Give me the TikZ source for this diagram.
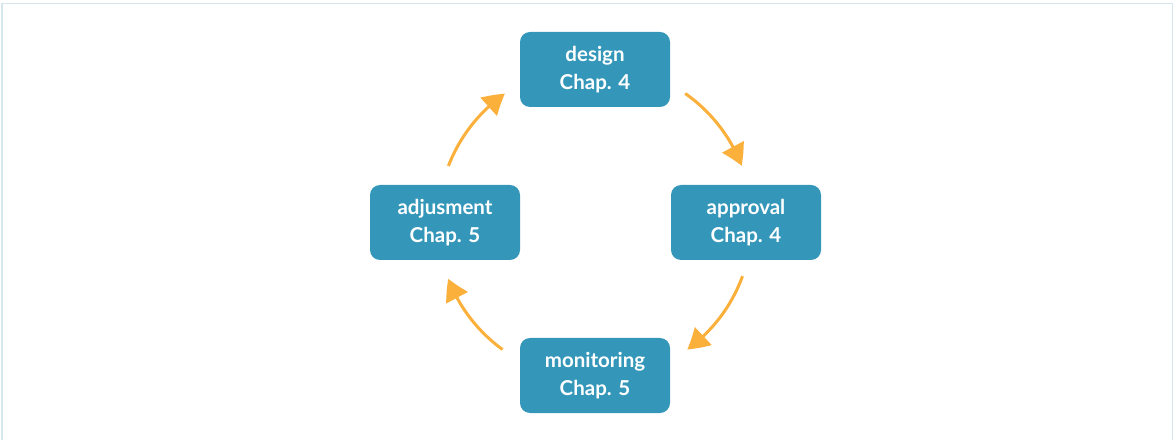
\documentclass[tikz,border=0pt]{standalone}
\usepackage{fontspec}
\setmainfont{Lato}
\definecolor{StageColor}{RGB}{52,151,186}
\definecolor{FlowColor}{RGB}{251,176,59}
\definecolor{FrameColor}{RGB}{214,230,238}
\usetikzlibrary{positioning, arrows.meta, bending, calc}
\tikzstyle{stage} = [rounded corners=10pt, fill=StageColor, text=white, font=\fontsize{20.5}{27.5}\selectfont\bfseries, align=center, minimum width=150pt, minimum height=75pt, inner sep=0pt]
\tikzstyle{flow} = [line width=3pt, FlowColor, -{Triangle[length=21pt, width=24pt, bend]}]

\begin{document}
\begin{tikzpicture}[x=1pt, y=1pt]
                \useasboundingbox (0,0) rectangle (1174,439);
                % Frame
                \draw[FrameColor, line width=1.5pt] (2,-2) -- (2,435.5) -- (1172.3,435.5) -- (1172.3,-2);
                
                % Stages
                \coordinate (hub) at (595,216.5);
                \node[stage] (design) at (595,369.5) {design\\Chap. 4};
                \node[stage] (approval) at (746,216.5) {approval\\Chap. 4};
                \node[stage] (monitoring) at (595,63.5) {monitoring\\Chap. 5};
                \node[stage] (adjusment) at (445,216.5) {adjusment\\Chap. 5};
                
                % Cycle
                \draw[flow] (design.east) ++(15,-24) arc[start angle=55, end angle=21, radius=157];
                \draw[flow] (approval.south) ++(-3.5,-16) arc[start angle=-20, end angle=-54, radius=157];
                \draw[flow] (monitoring.west) ++(-17.3,26) arc[start angle=-126, end angle=-159, radius=157];
                \draw[flow] (adjusment.north) ++(3.4,18.8) arc[start angle=159, end angle=125, radius=157];
            \end{tikzpicture}
\end{document}
